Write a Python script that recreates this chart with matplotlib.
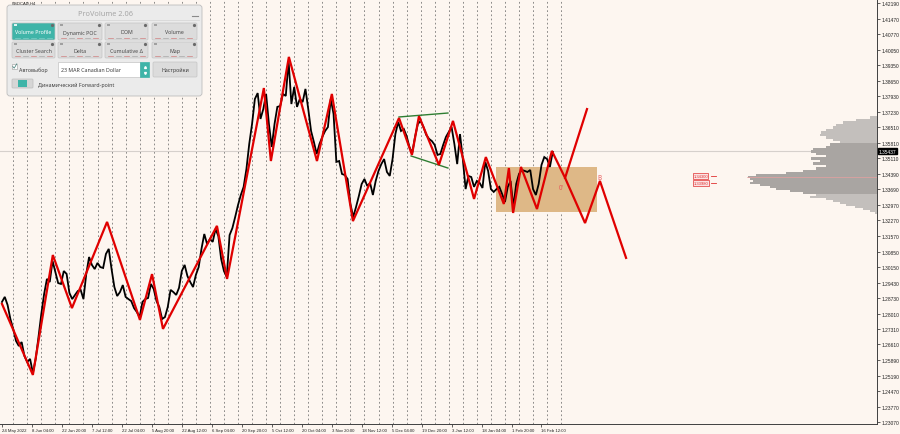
import matplotlib
matplotlib.use('Agg')
import matplotlib.pyplot as plt
from matplotlib.patches import Rectangle, FancyBboxPatch
import matplotlib.transforms as mtrans

plt.rcParams['font.family'] = ['Noto Sans', 'DejaVu Sans']

# ---------------- data ----------------
# daily closes of USDCAD (index = trading day from 24 May 2022)
close = [1.2855, 1.2878, 1.2841, 1.2777, 1.2732, 1.2677, 1.2654, 1.2672, 1.2608, 1.2581,
         1.2595, 1.2531, 1.2595, 1.2695, 1.2800, 1.2891, 1.2960, 1.2946, 1.3042, 1.2992,
         1.2941, 1.2937, 1.2996, 1.2983, 1.2896, 1.2868, 1.2887, 1.2905, 1.2910, 1.2868,
         1.2983, 1.3060, 1.3024, 1.3005, 1.3033, 1.3014, 1.3010, 1.3074, 1.3097, 1.3005,
         1.2923, 1.2882, 1.2900, 1.2932, 1.2878, 1.2868, 1.2859, 1.2827, 1.2809, 1.2786,
         1.2855, 1.2868, 1.2873, 1.2937, 1.2914, 1.2859, 1.2832, 1.2777, 1.2786, 1.2832,
         1.2910, 1.2900, 1.2887, 1.2919, 1.2996, 1.3024, 1.2973, 1.2946, 1.2923, 1.2978,
         1.3014, 1.3097, 1.3165, 1.3119, 1.3142, 1.3129, 1.3188, 1.3156, 1.3051, 1.2996,
         1.2969, 1.3160, 1.3192, 1.3243, 1.3297, 1.3343, 1.3380, 1.3462, 1.3576, 1.3667,
         1.3781, 1.3808, 1.3690, 1.3735, 1.3804, 1.3667, 1.3562, 1.3667, 1.3745, 1.3749,
         1.3804, 1.3795, 1.3954, 1.3758, 1.3836, 1.3745, 1.3781, 1.3767, 1.3827, 1.3735,
         1.3635, 1.3585, 1.3530, 1.3576, 1.3608, 1.3635, 1.3653, 1.3781, 1.3713, 1.3494,
         1.3498, 1.3439, 1.3434, 1.3416, 1.3302, 1.3243, 1.3288, 1.3338, 1.3393, 1.3416,
         1.3384, 1.3398, 1.3343, 1.3407, 1.3453, 1.3484, 1.3507, 1.3448, 1.3430, 1.3507,
         1.3621, 1.3676, 1.3635, 1.3644, 1.3612, 1.3562, 1.3535, 1.3608, 1.3667, 1.3681,
         1.3653, 1.3617, 1.3599, 1.3589, 1.3571, 1.3526, 1.3530, 1.3571, 1.3608, 1.3630,
         1.3653, 1.3576, 1.3484, 1.3621, 1.3507, 1.3370, 1.3430, 1.3425, 1.3380, 1.3407,
         1.3398, 1.3375, 1.3494, 1.3453, 1.3370, 1.3357, 1.3370, 1.3380, 1.3347, 1.3311,
         1.3380, 1.3407, 1.3288, 1.3393, 1.3439, 1.3457, 1.3453, 1.3448, 1.3457, 1.3370,
         1.3343, 1.3393, 1.3480, 1.3516, 1.3507, 1.3471, 1.3540]

# zigzag (day, price) including forecast
zz_day = [0, 11.0, 18.1, 24.9, 37.4, 49.1, 53.4, 57.3, 76.5, 80.1, 93.2, 95.7, 102.1,
          112.1, 117.4, 124.9, 141.3, 145.9, 148.4, 155.5, 160.5, 168.0, 172.2, 178.6,
          180.4, 181.9, 184.7, 190.4, 195.7, 200.4, 207.5, 212.8, 222.1]
zz_price = [1.2846, 1.2522, 1.3069, 1.2827, 1.3220, 1.2773, 1.2982, 1.2732, 1.3202,
            1.2960, 1.3831, 1.3498, 1.3973, 1.3498, 1.3804, 1.3224, 1.3694, 1.3526,
            1.3703, 1.3480, 1.3681, 1.3325, 1.3516, 1.3302, 1.3466, 1.3261, 1.3471,
            1.3279, 1.3544, 1.3421, 1.3215, 1.3407, 1.3056]
alt_day = [200.4, 208.2]
alt_price = [1.3421, 1.3735]

green_up_day = [141.3, 158.7]
green_up_price = [1.3699, 1.3717]
green_lo_day = [145.6, 158.7]
green_lo_price = [1.3521, 1.3466]

rect_day = [175.8, 211.7]
rect_price = [1.3266, 1.3471]

label_0_pos = (198.9, 1.3379)
label_b_pos = (212.5, 1.3425)

level_labels = ["1.34300", "1.33980"]
level_prices = [1.3430, 1.3398]

# volume profile
profile_price = [1.3696, 1.3684, 1.3673, 1.3662, 1.3650, 1.3638, 1.3627, 1.3617, 1.3604,
                 1.3593, 1.3582, 1.3574, 1.3562, 1.3550, 1.3541, 1.3531, 1.3521, 1.3510,
                 1.3498, 1.3486, 1.3475, 1.3465, 1.3453, 1.3443, 1.3434, 1.3425, 1.3416,
                 1.3407, 1.3398, 1.3389, 1.3380, 1.3370, 1.3361, 1.3352, 1.3343, 1.3334,
                 1.3325, 1.3316, 1.3306, 1.3297, 1.3288, 1.3279, 1.3270, 1.3262]
profile_vol = [7, 21, 34, 41, 44, 51, 56, 57, 51, 44, 37, 47, 51, 64, 66, 61, 51, 66, 57,
               64, 51, 61, 74, 91, 121, 129, 127, 124, 127, 117, 107, 101, 87, 74, 61, 67,
               51, 44, 37, 31, 22, 14, 7, 2]
va_high, va_low = 1.3578, 1.3347
poc_price = 1.3425
current_price = 1.35437

ytick_vals = [1.42190, 1.41470, 1.40770, 1.40050, 1.39350, 1.38650, 1.37930, 1.37230,
              1.36510, 1.35810, 1.35110, 1.34390, 1.33690, 1.32970, 1.32270, 1.31570,
              1.30850, 1.30150, 1.29430, 1.28730, 1.28010, 1.27310, 1.26610, 1.25890,
              1.25190, 1.24470, 1.23770, 1.23070]
xtick_days = [0, 10.67, 21.33, 32.0, 42.67, 53.33, 64.0, 74.67, 85.33, 96.0, 106.67,
              117.33, 128.0, 138.67, 149.33, 160.0, 170.67, 181.33, 192.0]
xtick_labels = ["24 May 2022", "8 Jun 04:00", "22 Jun 20:00", "7 Jul 12:00", "22 Jul 04:00",
                "5 Aug 20:00", "22 Aug 12:00", "6 Sep 04:00", "20 Sep 20:00", "5 Oct 12:00",
                "20 Oct 04:00", "3 Nov 20:00", "18 Nov 12:00", "5 Dec 04:00", "19 Dec 20:00",
                "3 Jan 12:00", "18 Jan 04:00", "1 Feb 20:00", "16 Feb 12:00"]
week_days = list(range(4, 200, 5))

# ---------------- figure ----------------
BG = '#FDF6F0'
AXFONT = ['Liberation Sans', 'DejaVu Sans']
fig = plt.figure(figsize=(9, 4.35), dpi=100, facecolor=BG)
ax = fig.add_axes([0.0, 10 / 435, 877 / 900, 425 / 435])
ax.set_facecolor(BG)
ax.set_xlim(-0.7, 311.4)
ax.set_ylim(1.2298, 1.42373)

for d in week_days:
    ax.axvline(d, color='#606060', lw=0.5, ls=(0, (2.5, 3.5)), zorder=0.5)

ax.axhline(current_price, color='#D6D0CC', lw=0.8, zorder=1.2)

ax.add_patch(Rectangle((rect_day[0], rect_price[0]), rect_day[1] - rect_day[0],
                       rect_price[1] - rect_price[0], facecolor='#DEB887',
                       edgecolor='none', zorder=1))

ax.plot(range(len(close)), close, color='black', lw=1.3, zorder=2, solid_joinstyle='miter')

ax.plot(green_up_day, green_up_price, color='#2E7D32', lw=1.0, zorder=2.5)
ax.plot(green_lo_day, green_lo_price, color='#2E7D32', lw=1.0, zorder=2.5)

ax.plot(zz_day, zz_price, color='#E00000', lw=1.6, zorder=3, solid_joinstyle='miter')
ax.plot(alt_day, alt_price, color='#E00000', lw=1.6, zorder=3)

ax.text(*label_0_pos, "0'", color='#E85A5A', fontsize=4.5, ha='center', va='center', zorder=4)
ax.text(*label_b_pos, "B", color='#E85A5A', fontsize=4.5, ha='center', va='center', zorder=4)

for lab, pr in zip(level_labels, level_prices):
    ax.text(246.0, pr, lab, color='#E03030', fontsize=3.0, ha='left', va='center',
            bbox=dict(boxstyle='square,pad=0.15', fc='#FBE3E3', ec='#E03030', lw=0.5),
            zorder=4, family=AXFONT)
    ax.plot([252.5, 254.0], [pr, pr], color='#E03030', lw=0.6, zorder=4)

# axes styling
for s in ['left', 'top']:
    ax.spines[s].set_visible(False)
ax.spines['right'].set_color('#404040')
ax.spines['bottom'].set_color('#404040')
ax.spines['right'].set_linewidth(0.7)
ax.spines['bottom'].set_linewidth(0.7)
ax.yaxis.tick_right()
ax.set_yticks(ytick_vals)
ax.set_yticklabels([f"{v:.5f}" for v in ytick_vals])
ax.tick_params(axis='y', direction='out', length=2, width=0.5, pad=1.5, labelsize=3.5,
               colors='#202020')
ax.set_xticks(xtick_days)
ax.set_xticklabels(xtick_labels)
ax.tick_params(axis='x', direction='out', length=2, width=0.5, pad=1.2, labelsize=3.1,
               colors='#202020')
for t in ax.get_xticklabels():
    t.set_ha('left')
for t in ax.get_xticklabels() + ax.get_yticklabels():
    t.set_family(AXFONT)

trans = mtrans.blended_transform_factory(ax.transAxes, ax.transData)
ax.text(1.002, current_price, f"{current_price:.5f}", transform=trans, color='white',
        fontsize=3.5, ha='left', va='center', family=AXFONT,
        bbox=dict(boxstyle='square,pad=0.2', fc='black', ec='black'), zorder=6, clip_on=False)

# volume profile on a twin axis growing from the right edge
ax2 = ax.twiny()
ax2.set_xlim(877, 0)
ax2.set_ylim(ax.get_ylim())
colors = ['#A9A5A2' if va_low <= p <= va_high else '#C3BFBC' for p in profile_price]
ax2.barh(profile_price, profile_vol, height=0.00118, left=0, color=colors,
         edgecolor='none', zorder=1)
ax2.plot([0, 130], [poc_price, poc_price], color='#E8A0A0', lw=0.5, zorder=2)
ax2.axis('off')

# ---------------- ProVolume panel (pixel overlay) ----------------
ov = fig.add_axes([0, 0, 1, 1], zorder=10)
ov.set_xlim(0, 900)
ov.set_ylim(435, 0)
ov.axis('off')
ov.patch.set_alpha(0)

ov.text(12, 4, "USDCAD,H4", fontsize=3.0, color='#202020', va='center', ha='left',
        family=AXFONT)

TEAL = '#3FB4A8'


def rbox(x0, y0, x1, y1, fc, ec, r=1.5, lw=0.5, z=1):
    ov.add_patch(FancyBboxPatch((x0, y0), x1 - x0, y1 - y0,
                                boxstyle=f"round,pad=0,rounding_size={r}",
                                fc=fc, ec=ec, lw=lw, zorder=z))


rbox(7, 6, 202, 97, '#EBEBEB', '#BDBDBD', r=3, lw=0.6)
ov.plot([10, 199], [21, 21], color='#D3D3D3', lw=0.5, zorder=2)
ov.text(105, 14, "ProVolume 2.06", fontsize=5.3, color='#A6A6A6', ha='center',
        va='center', zorder=3)
ov.plot([192, 198], [16.5, 16.5], color='#8A8A8A', lw=0.8, zorder=3)

cols = [(12, 55), (58, 102), (105, 148), (152, 197)]
rows = [(24, 41), (43, 59)]
labels = [["Volume Profile", "Dynamic POC", "DOM", "Volume"],
          ["Cluster Search", "Delta", "Cumulative Δ", "Map"]]
for ri, (y0, y1) in enumerate(rows):
    for ci, (x0, x1) in enumerate(cols):
        active = (ri == 0 and ci == 0)
        fc = TEAL if active else '#DCDCDC'
        rbox(x0, y0, x1, y1, fc, '#C4C4C4', r=1.2, z=2)
        ov.add_patch(Rectangle((x0 + 2, y0 + 1.2), 3, 2, fc='#A0A0A0' if not active else '#E0F4F2',
                               ec='none', zorder=3))
        ov.plot([x1 - 3], [y0 + 2.3], marker='o', ms=1.3, color='#6A6A6A', zorder=3)
        ov.text((x0 + x1) / 2, (y0 + y1) / 2 + 0.5, labels[ri][ci], fontsize=3.8,
                color='white' if active else '#4A4A4A', ha='center', va='center', zorder=3)
        xs = x0 + 3
        k = 0
        while xs + 5 < x1 - 2:
            c = '#D08080' if k % 2 == 0 else '#A8A8A8'
            if active:
                c = '#7FD0C8'
            ov.plot([xs, xs + 5], [y1 - 1.8, y1 - 1.8], color=c, lw=0.5, zorder=3)
            xs += 8
            k += 1

# row 3
ov.add_patch(Rectangle((12, 65), 5, 5, fc='white', ec='#9A9A9A', lw=0.4, zorder=3))
ov.plot([12.8, 14.2, 16.8], [67.5, 69.2, 64.8], color='#3A7A74', lw=0.5, zorder=4)
ov.text(19, 70.5, "Автовыбор", fontsize=3.8, color='#404040', ha='left', va='center', zorder=3)
ov.add_patch(Rectangle((58, 63), 82, 15, fc='white', ec='#C4C4C4', lw=0.5, zorder=2))
ov.text(61, 70.8, "23 MAR Canadian Dollar", fontsize=3.8, color='#404040', ha='left',
        va='center', zorder=3)
ov.add_patch(Rectangle((140, 63), 9, 15, fc=TEAL, ec=TEAL, lw=0.5, zorder=2))
ov.plot([144.5], [67.5], marker='^', ms=1.4, color='white', zorder=3)
ov.plot([144.5], [73.5], marker='v', ms=1.4, color='white', zorder=3)
rbox(153, 63, 197, 78, '#DCDCDC', '#C4C4C4', r=1.2, z=2)
ov.text(175, 70.8, "Настройки", fontsize=3.8, color='#404040', ha='center', va='center',
        zorder=3)

# row 4
rbox(12, 80, 33, 89, '#D6D6D6', '#BDBDBD', r=1.0, z=2)
ov.add_patch(Rectangle((18, 81), 9, 7, fc=TEAL, ec='none', zorder=3))
ov.text(38, 85, "Динамический Forward-point", fontsize=3.8, color='#404040', ha='left',
        va='center', zorder=3)

fig.savefig('out.png', dpi=100, facecolor=BG)
